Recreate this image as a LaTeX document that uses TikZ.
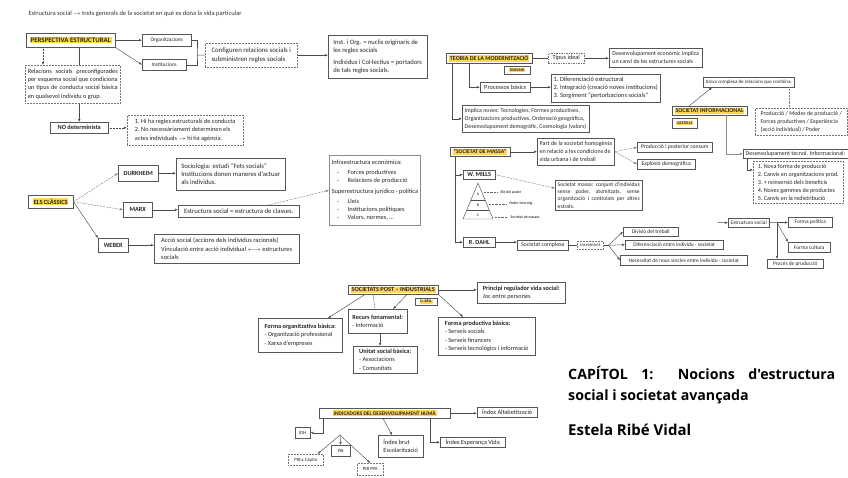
\documentclass[tikz,border=0pt]{standalone}
\usepackage{fontspec}
\setmainfont{Carlito}
\newfontfamily\titolfont{Open Sans}
\usepackage{tikz}
\usetikzlibrary{positioning, arrows.meta, shadows, backgrounds}

\definecolor{groc}{RGB}{255,214,80}
\definecolor{vora}{RGB}{85,85,85}
\newcommand{\marca}[1]{{\setlength{\fboxsep}{0.8pt}\colorbox{groc}{\bfseries #1}}}
\newcommand{\guio}{\hspace*{5pt}-\hspace{9pt}}
\newcommand{\mida}[2]{\fontsize{#1}{#2}\selectfont}

\tikzset{
  lletra/.style={font=\mida{6.3}{8.2}},
  lletrap/.style={font=\mida{5.4}{7}},
  lletrag/.style={font=\mida{6.7}{8.4}},
  petita/.style={font=\mida{3.8}{4.5}},
  mides/.style 2 args={minimum width=#1, minimum height=#2},
  caixa/.style={lletra, draw=vora, line width=0.45pt, fill=white, anchor=north west,
    inner xsep=2.5pt, inner ysep=1.5pt, text=black!85, align=left,
    drop shadow={shadow xshift=0.9pt, shadow yshift=-0.9pt, fill=black!60, opacity=1}},
  caixap/.style={lletra, draw=black!55, densely dotted, line width=0.5pt, fill=white,
    anchor=north west, inner xsep=2.5pt, inner ysep=1.5pt, text=black!85, align=left},
  caixad/.style={caixap, dash pattern=on 1.5pt off 1pt},
  caixal/.style={caixap, solid, draw=black!45},
  etiq/.style={caixa, font=\mida{3.9}{4.5}, inner sep=1pt},
  fl/.style={-{Latex[length=3pt,width=2.4pt]}, line width=0.45pt, draw=black!70},
  ll/.style={line width=0.45pt, draw=black!70},
  fld/.style={fl, dashed, dash pattern=on 2pt off 1pt, draw=black!50},
}

\begin{document}
\begin{tikzpicture}[x=1pt, y=-1pt]
  \useasboundingbox (0,0) rectangle (848,477);

  % ── Perspectiva estructural ──
  \node[font=\mida{6.5}{8}, anchor=west, text=black!80] (capcal) at (25,14)
    {Estructura social $\rightarrow$ trets generals de la societat en què es dona la vida particular};
  \node[caixa, mides={89pt}{14pt}, font=\mida{6.9}{8}] (persp) at (26,33)
    {\marca{PERSPECTIVA ESTRUCTURAL}};
  \node[caixa, lletrap, mides={49pt}{12pt}] (org) at (142,34) {Organitzacions};
  \node[caixa, lletrap, mides={44pt}{11pt}] (inst) at (142,59) {Institucions};
  \node[caixap, font=\mida{6.8}{8.6}, mides={92pt}{24pt}] (conf) at (205,43)
    {Configuren relacions socials i\\ subministren regles socials};
  \node[caixa, font=\mida{6.6}{8.3}, mides={99pt}{43pt}] (instorg) at (328,35)
    {Inst. i Org. = nuclis originaris de\\ les regles socials\\[3pt]
     Individus i Col·lectius = portadors\\ de tals regles socials.};
  \node[caixap, mides={95pt}{38pt}, text width=90pt, align=justify] (relac) at (25,65)
    {Relacions socials preconfigurades\linebreak per esquema social que condiciona\linebreak
     un tipus de conducta social bàsica\linebreak en qualsevol individu o grup.};
  \node[caixa, mides={58pt}{11pt}] (nodet) at (50,122) {\textbf{NO determinista}};
  \node[caixap, mides={116pt}{30pt}] (hiha) at (127,115)
    {1.~Hi ha regles estructurals de conducta\\ 2.~No necessàriament determinen els\\
     actes individuals $\rightarrow$ hi ha agència.};

  \coordinate (clau) at (197,55);
  \draw[fl] (persp.east) -- (org.west);
  \draw[fl] (persp.south east) -- (inst.west);
  \draw[ll] (org.east) -| (clau) |- (inst.east);
  \draw[ll] (clau) -- (conf.west);
  \draw[fl] (conf.east) -- (conf.east -| instorg.west);
  \draw[fl, densely dotted] ([xshift=17pt]persp.south west) -- ([xshift=18pt]relac.north west);
  \begin{scope}[on background layer]
    \draw[fl] (persp.south -| nodet.north) -- (nodet.north);
  \end{scope}
  \draw[fl, densely dotted] (nodet.east) -- (nodet.east -| hiha.west);

  % ── Els clàssics ──
  \node[caixa, mides={45pt}{13pt}] (clas) at (28,195) {\marca{ELS CLÀSSICS}};
  \node[caixa, mides={40pt}{16pt}] (durk) at (118,165) {\textbf{DURKHEIM}};
  \node[caixa, mides={29pt}{15pt}] (marx) at (123,202) {\textbf{MARX}};
  \node[caixa, mides={30pt}{14pt}] (weber) at (98,238) {\textbf{WEBER}};
  \node[caixa, lletrag, mides={109pt}{32pt}] (socio) at (176,158)
    {Sociologia: estudi "Fets socials"\\ Institucions donen maneres d'actuar\\ als individus.};
  \node[caixa, lletrag, mides={121pt}{12pt}] (estrc) at (178,205) {Estructura social = estructura de classes.};
  \node[caixal, font=\mida{6.4}{8.2}, mides={88pt}{70pt}] (infra) at (329,155)
    {Infraestructura econòmica:\\[2pt] \guio Forces productives\\ \guio Relacions de producció\\[2pt]
     Superestructura jurídico - política\\[2pt] \guio Lleis\\ \guio Institucions polítiques\\
     \guio Valors, normes, \dots};
  \node[caixa, font=\mida{6.5}{8.3}, mides={145pt}{29pt}] (accio) at (154,234)
    {Acció social (accions dels individus racionals)\\
     Vinculació entre acció individual $\leftarrow\!\rightarrow$ estructures\\ socials};

  \draw[fld] (clas.east) -- (durk.west);
  \draw[fld] (clas.east) -- (marx.west);
  \draw[fl] (clas.east) -- (weber.north west);
  \draw[fl] (durk.east) -- (durk.east -| socio.west);
  \draw[fl] (marx.east) -- (marx.east -| estrc.west);
  \draw[fld] ([xshift=-31pt]estrc.north east) -- (infra.west);
  \draw[fl] (weber.east) -- (weber.east -| accio.west);

  % ── Teoria de la modernització ──
  \node[caixa, mides={86pt}{10pt}, font=\mida{6}{7}] (teoria) at (446,53)
    {\marca{TEORIA DE LA MODERNITZACIÓ}};
  \node[etiq, mides={26pt}{8pt}] (smelser) at (504,66) {\marca{SMELSER}};
  \node[caixad, mides={36pt}{10pt}] (tipus) at (548,53) {Tipus ideal};
  \node[caixa, font=\mida{5.9}{7.6}, mides={93pt}{19pt}] (desen) at (609,48)
    {Desenvolupament econòmic implica\\ un canvi de les estructures socials};
  \node[caixa, mides={50pt}{10pt}] (proc) at (480,82) {Processos bàsics};
  \node[caixa, font=\mida{6.4}{8}, mides={101pt}{28pt}] (llista) at (551,74)
    {1.~Diferenciació estructural\\ 2.~Integració (creació noves institucions)\\
     3.~Sorgiment "pertorbacions socials"};
  \node[caixa, font=\mida{5.9}{7.8}, mides={126pt}{27pt}] (implica) at (462,105)
    {Implica noves: Tecnologies, Formes productives,\\
     Organitzacions productives, Ordenació geogràfica,\\
     Desenvolupament demogràfic, Cosmologia (valors)};

  \draw[ll] (teoria.east) -- (teoria.east -| tipus.west);
  \draw[fl] (tipus.east) -- (tipus.east -| desen.west);
  \draw[fl] ([xshift=23pt]teoria.south west) |- (proc.west);
  \draw[fl] (proc.east) -- (proc.east -| llista.west);
  \draw[fl] ([xshift=6pt]teoria.south west) |- (implica.west);

  % ── Societat informacional ──
  \node[caixa, mides={74pt}{9pt}, font=\mida{6}{7}] (sinfo) at (672,106)
    {\marca{SOCIETAT INFORMACIONAL}};
  \node[etiq, mides={25pt}{10pt}] (cast) at (672,118) {\marca{CASTELLS}};
  \node[caixa, mides={89pt}{10pt}, font=\mida{5}{6}] (xarxa) at (703,77)
    {Xarxa complexa de relacions que combina:};
  \node[caixap, font=\mida{5.9}{7.8}, mides={92pt}{27pt}] (prodm) at (755,108)
    {Producció / Modes de producció /\\ Forces productives / Experiència\\ (acció individual) / Poder};
  \node[caixa, mides={99pt}{9pt}, font=\mida{6}{7}] (dtec) at (743,149)
    {Desenvolupament tecnol. Informacional:};
  \node[caixap, font=\mida{6.1}{7.9}, mides={90pt}{42pt}] (cinc) at (753,161)
    {1.~Nova forma de producció\\ 2.~Canvis en organitzacions prod.\\ 3.~+ reinversió dels beneficis\\
     4.~Noves gammes de productes\\ 5.~Canvis en la redistribució};

  \draw[fl] ([xshift=17pt]sinfo.north west) -- ([xshift=9pt]xarxa.south west);
  \draw[ll, densely dotted, draw=black!50] ([xshift=-5pt]xarxa.south east)
    -- ([xshift=-5pt]xarxa.south east |- prodm.north);
  \draw[fl, draw=black!45] ([xshift=54pt]sinfo.south west) |- (dtec.west);
  \draw[fl] ([xshift=4pt]dtec.south west) |- ([yshift=-9pt]cinc.north west);

  % ── Societat de massa ──
  \node[caixa, mides={58pt}{9pt}, font=\mida{5.7}{7}] (massa) at (450,147)
    {\marca{"SOCIETAT DE MASSA"}};
  \node[caixa, font=\mida{6}{8}, mides={73pt}{27pt}] (part) at (537,138)
    {Part de la societat homogènia\\ en relació a les condicions de\\ vida urbana i de treball};
  \node[caixa, mides={75pt}{10pt}, font=\mida{5.7}{7}] (consum) at (637,142) {Producció i posterior consum};
  \node[caixa, mides={58pt}{10pt}, font=\mida{5.7}{7}] (explo) at (637,159) {Explosió demogràfica};
  \node[caixa, mides={32pt}{9pt}] (mills) at (463,170) {\textbf{W. MILLS}};
  \node[caixa, font=\mida{5.6}{7.4}, mides={87pt}{30pt}, text width=82pt, align=justify] (smassa) at (555,180)
    {Societat massa: conjunt d'individus\linebreak sense poder, atomitzats, sense\linebreak
     organització i controlats per altres\linebreak estrats.};
  \node[caixa, mides={32pt}{10pt}] (dahl) at (463,237) {\textbf{R. DAHL}};
  \node[caixa, mides={51pt}{10pt}, font=\mida{5.9}{7}] (scomp) at (517,240) {Societat complexa};
  \node[caixap, mides={26pt}{8pt}, font=\mida{4.7}{5}] (incr) at (577,241) {Increment};
  \node[caixa, lletrap, mides={55pt}{9pt}] (divis) at (623,227) {Divisió del treball};
  \node[caixa, lletrap, mides={98pt}{9pt}] (difer) at (625,240) {Diferenciació entre individu - societat};
  \node[caixa, lletrap, mides={127pt}{10pt}] (necess) at (620,255) {Necessitat de nous vincles entre individu - societat};
  \node[caixa, lletrap, mides={40pt}{9pt}] (estrs) at (728,218) {Estructura social};
  \node[caixa, lletrap, mides={44pt}{10pt}] (fpol) at (788,217) {Forma política};
  \node[caixa, lletrap, mides={42pt}{10pt}] (fcult) at (788,242) {Forma cultura};
  \node[caixa, lletrap, mides={56pt}{9pt}] (fprod) at (767,259) {Procés de producció};

  % piràmide de Mills
  \coordinate (pA) at (478,183);
  \coordinate (pE) at (463,219);
  \coordinate (pD) at (493,219);
  \draw[ll] (pA) -- (pE) -- (pD) -- cycle;
  \draw[ll] (470.9,200) -- (485.1,200);
  \draw[ll] (466.75,210) -- (489.25,210);
  \node[petita] (nA) at (478,194) {A};
  \node[petita] (nB) at (478,205) {B};
  \node[petita] (nC) at (478,215) {C};
  \node[petita, anchor=west] (elit) at (497,192) {Elit del poder};
  \node[petita, anchor=west] (inter) at (506,204) {Poder intermig};
  \node[petita, anchor=west] (smas) at (507,217) {Societat de masses};
  \draw[densely dotted, draw=black!60] (484,192) -- (elit.west);
  \draw[densely dotted, draw=black!60] (489,204) -- (inter.west);
  \draw[densely dotted, draw=black!60] (495,217) -- (smas.west);

  \coordinate (bif) at ([xshift=5pt]incr.east);
  \coordinate (entrada) at (717,222.5);
  \coordinate (nus) at (777,222.5);
  \draw[fl] (massa.east) -- (massa.east -| part.west);
  \draw[fld] (part.east) -- (consum.west);
  \draw[fld] (part.east) -- (explo.west);
  \draw[fl] ([xshift=5pt]massa.south west) |- (mills.west);
  \draw[fl] ([xshift=5pt]massa.south west) |- (dahl.west);
  \draw[fld] (mills.east) -- ([yshift=7pt]smassa.west);
  \draw[fl] (dahl.east) -- (dahl.east -| scomp.west);
  \draw[ll] (scomp.east) -- (scomp.east -| incr.west);
  \draw[ll] (incr.east) -- (bif);
  \draw[fl] (bif) -- (divis.west);
  \draw[fl] (bif) -- (difer.west);
  \draw[fl] (bif) -- (necess.west);
  \draw[fl] (entrada) -- (estrs.west);
  \draw[ll] (estrs.east) -- (nus);
  \draw[fl] (nus) -- (nus -| fpol.west);
  \draw[fl] (nus) -- (fcult.north west);
  \draw[fl] (nus) -- (nus |- fprod.north);

  % ── Societats post-industrials ──
  \node[caixa, mides={90pt}{9pt}] (post) at (348,285) {\marca{SOCIETATS POST – INDUSTRIALS}};
  \node[etiq, mides={22pt}{7pt}] (bell) at (415,298) {\marca{D. BELL}};
  \node[caixa, mides={88pt}{21pt}] (princ) at (477,282)
    {\textbf{Principi regulador vida social:}\\ Joc entre persones};
  \node[caixa, mides={84pt}{34pt}] (forg) at (258,318)
    {\textbf{Forma organitzativa bàsica:}\\ - Organització professional\\ - Xarxa d'empreses};
  \node[caixa, mides={59pt}{24pt}] (recurs) at (348,309)
    {\textbf{Recurs fonamental:}\\ - Informació};
  \node[caixa, mides={64pt}{27pt}] (unitat) at (353,346)
    {\textbf{Unitat social bàsica:}\\ - Associacions\\ - Comunitats};
  \node[caixa, mides={97pt}{38pt}] (fprodb) at (438,317)
    {\textbf{Forma productiva bàsica:}\\ - Serveis socials\\ - Serveis financers\\
     - Serveis tecnològics i informació};

  \draw[fl] (post.east) -- (post.east -| princ.west);
  \draw[fl] ([xshift=17pt]post.south west) -- ([xshift=70pt]forg.north west);
  \draw[ll, dashed, dash pattern=on 2pt off 1pt] ([xshift=25pt]post.south west) -- ([xshift=27pt]recurs.north west);
  \draw[fl] ([xshift=59pt]post.south west) -- ([xshift=45pt]recurs.north west);
  \draw[fl] (post.south east) -- ([xshift=25pt]fprodb.north west);
  \draw[fl] ([xshift=32pt]recurs.south west) -- ([xshift=27pt]unitat.north west);

  % ── Títol ──
  \node[anchor=north west, text width=267pt, align=justify, inner sep=0pt,
        font=\titolfont\bfseries\mida{14.2}{21}] (cap) at (568,366)
    {CAPÍTOL 1: Nocions d'estructura\linebreak social i societat avançada};
  \node[anchor=west, inner sep=0pt, font=\titolfont\bfseries\mida{15}{18}] (autora)
    at (568,430) {Estela Ribé Vidal};

  % ── Indicadors ──
  \node[caixa, lletrap, mides={131pt}{10pt}] (indic) at (319,408) {\marca{INDICADORS DEL DESENVOLUPAMENT HUMÀ}};
  \node[caixa, mides={60pt}{10pt}] (alfab) at (477,407) {Índex Alfabetització};
  \node[caixa, mides={65pt}{10pt}] (esper) at (440,437) {Índex Esperança Vida};
  \node[caixa, mides={45pt}{22pt}] (brut) at (378,435) {Índex brut\\ Escolarització};
  \node[caixa, mides={15pt}{11pt}, font=\mida{4.8}{5.5}] (idh) at (295,427) {IDH};
  \node[caixa, mides={19pt}{11pt}, font=\mida{4.5}{5}] (pib) at (331,445) {PIB};
  \node[caixap, mides={35pt}{11pt}, font=\mida{4.8}{5.5}] (pibc) at (288,454) {PIB x Càpita};
  \node[caixap, mides={26pt}{12pt}, font=\mida{4.8}{5.5}] (pibppa) at (357,463) {PIB PPA};
  \coordinate (vertex) at (340,435);

  \draw[fl] (indic.east) -- (indic.east -| alfab.west);
  \draw[fl] ([xshift=111pt]indic.south west) |- (esper.west);
  \draw[fl] ([xshift=64pt]indic.south west) -- ([xshift=14pt]brut.north west);
  \draw[fl] ([xshift=4pt]indic.south west) |- (idh.east);
  \draw[fl] (vertex) -- ([xshift=-6pt]pibc.north east);
  \draw[fl] (vertex) -- (pib.north);
  \draw[fl] (vertex) -- (pibppa.north);
\end{tikzpicture}
\end{document}
